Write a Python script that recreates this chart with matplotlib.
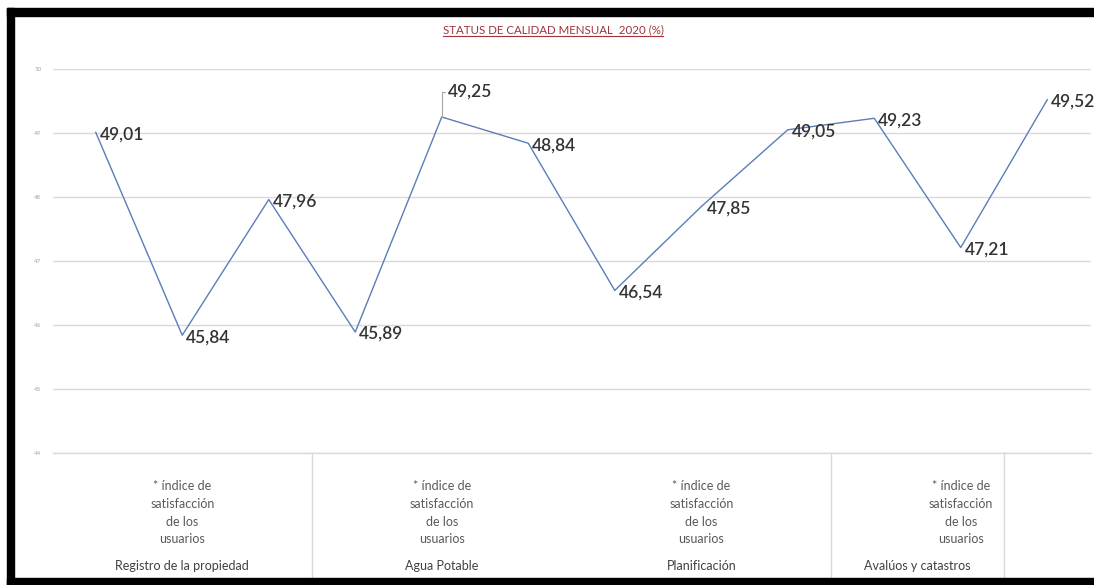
import matplotlib
matplotlib.use("Agg")
import matplotlib.pyplot as plt
from matplotlib.patches import Rectangle
from matplotlib.lines import Line2D

plt.rcParams['font.family'] = ['Lato', 'DejaVu Sans']

# ---- data ----
values = [49.01, 45.84, 47.96, 45.89, 49.25, 48.84, 46.54, 47.85, 49.05, 49.23, 47.21, 49.52]
value_labels = ["49,01", "45,84", "47,96", "45,89", "49,25", "48,84", "46,54", "47,85", "49,05", "49,23", "47,21", "49,52"]
yticks = [44, 45, 46, 47, 48, 49, 50]
sub_label = "* índice de\nsatisfacción\nde los\nusuarios"
group_labels = ["Registro de la propiedad", "Agua Potable", "Planificación", "Avalúos y catastros"]
title = "STATUS DE CALIDAD MENSUAL  2020 (%)"

W, H = 1094, 585
fig = plt.figure(figsize=(W / 100, H / 100), dpi=100)
fig.patch.set_facecolor('white')

# plot area in pixels
L, R, T, B = 52.5, 1090.5, 69, 453
ax = fig.add_axes([L / W, (H - B) / H, (R - L) / W, (B - T) / H])
x = list(range(len(values)))
ax.set_xlim(-0.5, len(values) - 0.5)
ax.set_ylim(44, 50)

ax.plot(x, values, color='#5B7DB8', lw=1.0, zorder=3)

ax.set_yticks(yticks)
ax.set_yticklabels([str(t) for t in yticks], fontsize=4.5, color='#A8A8A8')
ax.tick_params(axis='y', length=0, pad=8)
ax.set_xticks([])
ax.grid(axis='y', color='#D9D9D9', lw=1.0)
ax.set_axisbelow(True)
for s in ['top', 'right', 'left']:
    ax.spines[s].set_visible(False)
ax.spines['bottom'].set_color('#D9D9D9')
ax.spines['bottom'].set_linewidth(1.0)

# data labels
lab_kw = dict(fontsize=12.5, color='#333333', fontweight='semibold')
for i, (v, lab) in enumerate(zip(values, value_labels)):
    if i == 4:
        ax.annotate(lab, (i, v), xytext=(6, 25), textcoords='offset pixels',
                    ha='left', va='center', **lab_kw,
                    arrowprops=dict(arrowstyle='-', color='#A6A6A6', lw=0.8,
                                    shrinkA=0, shrinkB=0,
                                    connectionstyle='angle,angleA=0,angleB=90,rad=0'))
    else:
        dx = 6 if i == 7 else 4
        ax.annotate(lab, (i, v), xytext=(dx, -2), textcoords='offset pixels',
                    ha='left', va='center', **lab_kw)

# category axis (multi-level)
px2ax = lambda py: (B - py) / (B - T)
xt = ax.get_xaxis_transform()
for sep in [2.5, 8.5, 10.5]:
    ax.add_line(Line2D([sep, sep], [0, px2ax(580)], transform=xt, color='#D9D9D9',
                       lw=1.0, clip_on=False))
sub_pos = [1, 4, 7, 10]
grp_pos = [1, 4, 7, 9.5]
for p in sub_pos:
    ax.text(p, px2ax(480), sub_label, transform=xt, ha='center', va='top',
            fontsize=9, color='#595959', linespacing=1.58)
for p, g in zip(grp_pos, group_labels):
    ax.text(p, px2ax(566), g, transform=xt, ha='center', va='center',
            fontsize=9, color='#404040')

# title with underline
tt = fig.text(553 / W, 1 - 30 / H, title, ha='center', va='center',
              fontsize=8.3, color='#A3323A')
fig.canvas.draw()
bb = tt.get_window_extent()
fig.add_artist(Line2D([bb.x0 / W, bb.x1 / W], [(bb.y0 - 0.5) / H, (bb.y0 - 0.5) / H],
                      transform=fig.transFigure, color='#A3323A', lw=0.8))

# black frame (left, top, bottom)
ov = fig.add_axes([0, 0, 1, 1], zorder=10)
ov.set_xlim(0, W)
ov.set_ylim(H, 0)
ov.axis('off')
ov.patch.set_alpha(0)
ov.add_patch(Rectangle((7, 8), 7, H - 8, color='black'))
ov.add_patch(Rectangle((7, 8), W - 7, 8, color='black'))
ov.add_patch(Rectangle((7, 578), W - 7, 7, color='black'))

fig.savefig('out.png', dpi=100)
